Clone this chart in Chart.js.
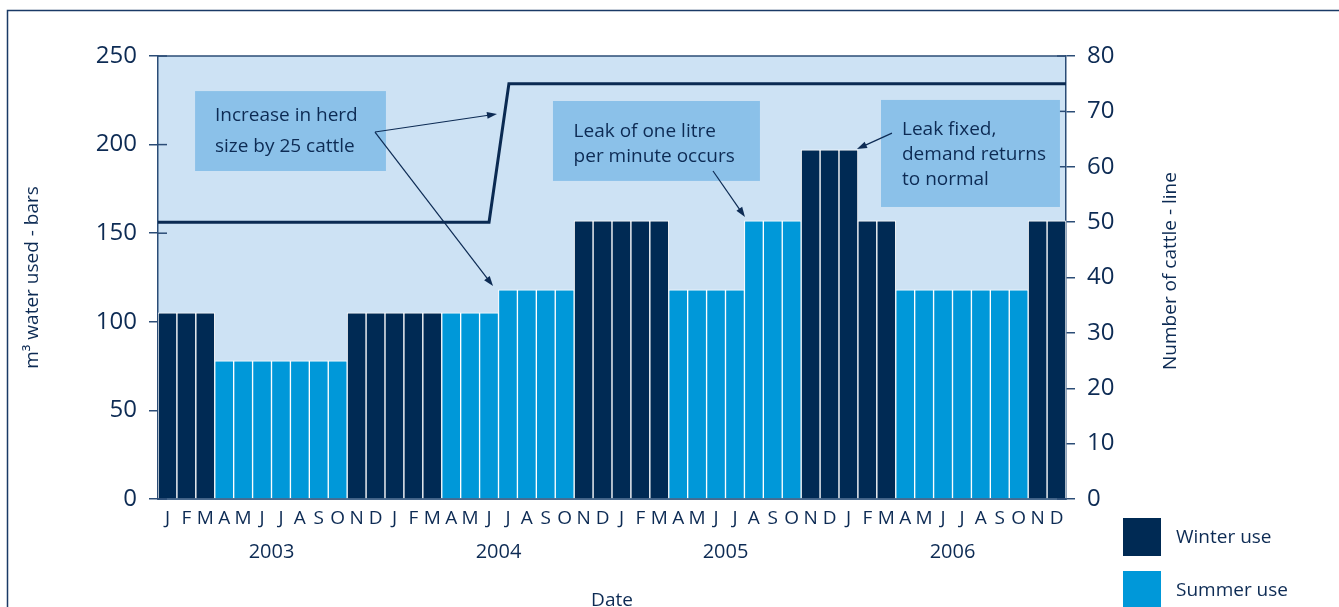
<!DOCTYPE html>
<html>
<head>
<meta charset="utf-8">
<script src="https://cdn.jsdelivr.net/npm/chart.js@4.4.1/dist/chart.umd.min.js"></script>
<style>
    html, body { margin: 0; padding: 0; background: #ffffff; }
</style>
</head>
<body>
<canvas id="water_chart" width="1339" height="607"></canvas>
<script>
const month_letters = ['J', 'F', 'M', 'A', 'M', 'J', 'J', 'A', 'S', 'O', 'N', 'D']
const years = ['2003', '2004', '2005', '2006']
const months = years.flatMap(() => month_letters)

// m3 water used per month (bars), null where the other season applies
const winter_use = [
    105, 105, 105, null, null, null, null, null, null, null, 105, 105,
    105, 105, 105, null, null, null, null, null, null, null, 157, 157,
    157, 157, 157, null, null, null, null, null, null, null, 197, 197,
    197, 157, 157, null, null, null, null, null, null, null, 157, 157
]
const summer_use = [
    null, null, null, 78, 78, 78, 78, 78, 78, 78, null, null,
    null, null, null, 105, 105, 105, 118, 118, 118, 118, null, null,
    null, null, null, 118, 118, 118, 118, 157, 157, 157, null, null,
    null, null, null, 118, 118, 118, 118, 118, 118, 118, null, null
]

// herd size (line), month position counted from Jan 2003
const cattle_month = [0, 17.5, 18.55, 48]
const cattle_count = [50, 50, 75, 75]

const water_ticks = [0, 50, 100, 150, 200, 250]
const cattle_ticks = [0, 10, 20, 30, 40, 50, 60, 70, 80]

const dark_blue = '#002a54'
const mid_blue = '#0098d9'
const text_color = '#0d2b54'
const axis_color = '#2b4c76'
const font_family = "'Open Sans', sans-serif"

const notes = [
    { box: [1.96, 230.2, 12.05, 185.1], tx: 3.01, lines: ['Increase in herd', 'size by 25 cattle'], ty: [213.4, 195.8],
      arrows: [[11.47, 207.1, 17.92, 217.3], [11.47, 207.1, 17.71, 120.2]] },
    { box: [20.88, 224.6, 31.82, 179.5], tx: 21.97, lines: ['Leak of one litre', 'per minute occurs'], ty: [204.3, 190.2],
      arrows: [[29.34, 185.1, 31.03, 159.1]] },
    { box: [38.22, 225.2, 47.68, 164.8], tx: 39.33, lines: ['Leak fixed,', 'demand returns', 'to normal'], ty: [205.4, 191.3, 177.2],
      arrows: [[38.80, 206.5, 36.95, 197.5]] }
]

const arrow = (ctx, x0, y0, x1, y1) => {
    const ang = Math.atan2(y1 - y0, x1 - x0)
    const c = Math.cos(ang), s = Math.sin(ang)
    ctx.beginPath()
    ctx.moveTo(x0, y0)
    ctx.lineTo(x1 - 7 * c, y1 - 7 * s)
    ctx.stroke()
    ctx.beginPath()
    ctx.moveTo(x1, y1)
    ctx.lineTo(x1 - 10 * c + 3.5 * s, y1 - 10 * s - 3.5 * c)
    ctx.lineTo(x1 - 10 * c - 3.5 * s, y1 - 10 * s + 3.5 * c)
    ctx.closePath()
    ctx.fill()
}

const decor = {
    id: 'decor',
    beforeDraw(chart) {
        const { ctx, chartArea: a } = chart
        ctx.save()
        ctx.strokeStyle = '#1a3a66'
        ctx.lineWidth = 1.5
        ctx.beginPath()
        ctx.moveTo(7.5, 607)
        ctx.lineTo(7.5, 10.5)
        ctx.lineTo(1339, 10.5)
        ctx.stroke()
        ctx.fillStyle = '#cde2f4'
        ctx.fillRect(a.left, a.top, a.right - a.left, a.bottom - a.top)
        ctx.restore()
    },
    beforeDatasetsDraw(chart) {
        const { ctx, chartArea: a, scales } = chart
        ctx.save()
        ctx.strokeStyle = axis_color
        ctx.lineWidth = 1.5
        water_ticks.forEach(v => {
            const y = scales.y.getPixelForValue(v)
            ctx.beginPath(); ctx.moveTo(a.left, y); ctx.lineTo(a.left + 9, y); ctx.stroke()
        })
        cattle_ticks.forEach(v => {
            const y = scales.y1.getPixelForValue(v)
            ctx.beginPath(); ctx.moveTo(a.right - 9, y); ctx.lineTo(a.right, y); ctx.stroke()
        })
        ctx.beginPath(); ctx.moveTo(a.left, a.top); ctx.lineTo(a.right, a.top); ctx.stroke()
        ctx.restore()
    },
    afterDatasetsDraw(chart) {
        const { ctx, scales } = chart
        const px = m => scales.x2.getPixelForValue(m)
        const py = v => scales.y.getPixelForValue(v)
        ctx.save()
        notes.forEach(n => {
            ctx.fillStyle = '#8bc1e9'
            ctx.fillRect(px(n.box[0]), py(n.box[1]), px(n.box[2]) - px(n.box[0]), py(n.box[3]) - py(n.box[1]))
            ctx.fillStyle = text_color
            ctx.font = `19px ${font_family}`
            ctx.textAlign = 'left'
            ctx.textBaseline = 'alphabetic'
            n.lines.forEach((t, i) => ctx.fillText(t, px(n.tx), py(n.ty[i])))
            ctx.strokeStyle = text_color
            ctx.lineWidth = 1.2
            n.arrows.forEach(r => arrow(ctx, px(r[0]), py(r[1]), px(r[2]), py(r[3])))
        })
        ctx.restore()
    },
    afterDraw(chart) {
        const { ctx, chartArea: a, scales } = chart
        ctx.save()
        ctx.fillStyle = text_color
        ctx.textAlign = 'center'
        ctx.textBaseline = 'alphabetic'
        ctx.font = `20px ${font_family}`
        years.forEach((yr, i) => ctx.fillText(yr, scales.x2.getPixelForValue(i * 12 + 6), 558))
        ctx.font = `19px ${font_family}`
        ctx.fillText('Date', (a.left + a.right) / 2, 606)

        ctx.save()
        ctx.translate(1171, 271)
        ctx.rotate(-Math.PI / 2)
        ctx.textBaseline = 'middle'
        ctx.fillText('Number of cattle - line', 0, 0)
        ctx.restore()

        ctx.fillStyle = dark_blue
        ctx.fillRect(1123, 518, 38, 38)
        ctx.fillStyle = mid_blue
        ctx.fillRect(1123, 571, 38, 38)
        ctx.fillStyle = text_color
        ctx.textAlign = 'left'
        ctx.font = `19px ${font_family}`
        ctx.fillText('Winter use', 1176, 543)
        ctx.fillText('Summer use', 1176, 596)
        ctx.restore()
    }
}

const water_chart = document.querySelector('#water_chart')

new Chart(water_chart, {
    type: 'bar',
    data: {
        labels: months,
        datasets: [
            {
                type: 'line',
                label: 'Number of cattle',
                data: cattle_month.map((m, i) => ({ x: m, y: cattle_count[i] })),
                xAxisID: 'x2',
                yAxisID: 'y1',
                borderColor: '#0a2a52',
                borderWidth: 3,
                pointRadius: 0,
                tension: 0,
                order: 0
            },
            {
                label: 'Winter use',
                data: winter_use,
                backgroundColor: dark_blue,
                borderColor: '#ffffff',
                borderWidth: 1,
                grouped: false,
                categoryPercentage: 1,
                barPercentage: 1,
                yAxisID: 'y',
                order: 1
            },
            {
                label: 'Summer use',
                data: summer_use,
                backgroundColor: mid_blue,
                borderColor: '#ffffff',
                borderWidth: 1,
                grouped: false,
                categoryPercentage: 1,
                barPercentage: 1,
                yAxisID: 'y',
                order: 1
            }
        ]
    },
    options: {
        responsive: false,
        animation: false,
        layout: {
            padding: { top: 56, left: 0, right: 0, bottom: 0 }
        },
        plugins: {
            legend: false,
            tooltip: { enabled: false }
        },
        scales: {
            x: {
                grid: { display: false, drawTicks: false },
                border: { display: true, color: '#4a6a8e', width: 2 },
                ticks: {
                    autoSkip: false,
                    maxRotation: 0,
                    padding: 8,
                    color: text_color,
                    font: { family: font_family, size: 19 }
                },
                afterFit: s => { s.height = 108 }
            },
            x2: {
                type: 'linear',
                display: false,
                offset: false,
                min: 0,
                max: 48
            },
            y: {
                position: 'left',
                min: 0,
                max: 250,
                afterBuildTicks: s => { s.ticks = water_ticks.map(v => ({ value: v })) },
                ticks: {
                    padding: 12,
                    color: text_color,
                    font: { family: font_family, size: 24 }
                },
                grid: { drawOnChartArea: false, tickLength: 9, color: axis_color, lineWidth: 1.5 },
                border: { display: true, color: axis_color, width: 1.5 },
                title: {
                    display: true,
                    text: 'm³ water used - bars',
                    color: text_color,
                    font: { family: font_family, size: 19 },
                    padding: { top: 21, bottom: 0 }
                },
                afterFit: s => { s.width = 158 }
            },
            y1: {
                position: 'right',
                min: 0,
                max: 80,
                afterBuildTicks: s => { s.ticks = cattle_ticks.map(v => ({ value: v })) },
                ticks: {
                    padding: 12,
                    color: text_color,
                    font: { family: font_family, size: 24 }
                },
                grid: { drawOnChartArea: false, tickLength: 9, color: axis_color, lineWidth: 1.5 },
                border: { display: true, color: axis_color, width: 1.5 },
                afterFit: s => { s.width = 273 }
            }
        }
    },
    plugins: [decor]
})
</script>
</body>
</html>
